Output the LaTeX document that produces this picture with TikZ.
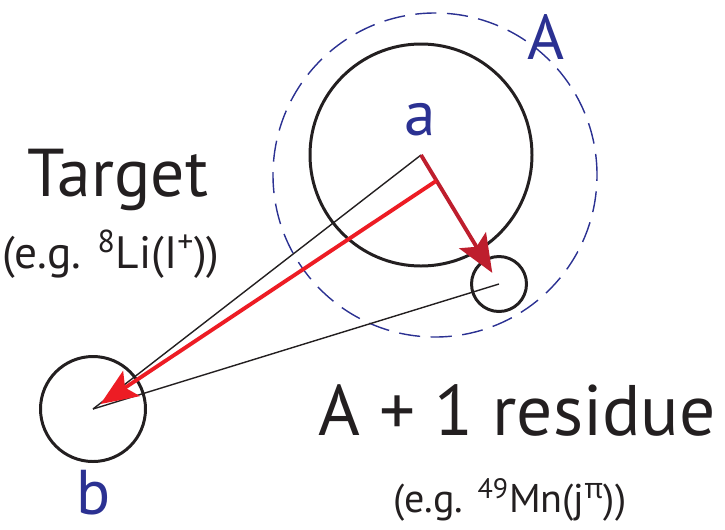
\documentclass[tikz,border=0pt]{standalone}
\usepackage{fontspec}
\setmainfont{PT Sans}
\newfontfamily\greekfont{Noto Sans}
\usetikzlibrary{calc, positioning}
\usetikzlibrary{arrows.meta}

\definecolor{nucblue}{HTML}{2B3192}
\definecolor{brightred}{HTML}{ED1C24}
\definecolor{darkred}{HTML}{BE1E2D}
\definecolor{inkblack}{HTML}{231F20}

\tikzset{
  body/.style={draw=inkblack, line width=1.7pt},
  ray/.style={draw=inkblack, line width=0.8pt},
  shell/.style={draw=nucblue, line width=0.8pt, dash pattern=on 12pt off 6pt},
  tag/.style={text=nucblue, inner sep=0pt, font=\fontsize{36}{40}\selectfont},
  words/.style={text=inkblack, inner sep=0pt, anchor=base west},
}

\begin{document}
\begin{tikzpicture}
\useasboundingbox (0,0) rectangle (14.5,10.58);

\coordinate (a) at (8.42,7.48);
\coordinate (b) at (1.86,2.40);
\coordinate (c) at (9.98,4.90);
\coordinate (o) at (8.70,7.08);
\coordinate (k) at ($(a)!0.6cm!(c)$);

% nuclei
\draw[shell] (o) circle (3.24);
\draw[body] (a) circle (2.22);
\draw[body] (c) circle (0.55);
\draw[body] (b) circle (1.05);

% lines to the target
\draw[ray] (a) -- (b);
\draw[ray] (c) -- (b);

% removal and transfer
\draw[-{Stealth[length=7.6mm, width=6.2mm, inset=1.5mm]}, darkred, line width=2.2pt, shorten >=0.26cm] (a) -- (c);
\draw[-{Stealth[length=7.4mm, width=6mm, inset=1.5mm]}, brightred, line width=2.2pt, shorten >=0.18cm] (k) -- (b);

\node[tag, anchor=base] (alabel) at (8.40,7.88) {a};
\node[tag, anchor=base] (blabel) at (1.88,0.30) {b};
\node[tag, anchor=base] (Alabel) at (10.91,9.40) {A};

\node[words, font=\fontsize{38.5}{44}\selectfont] (target) at (0.54,6.65) {Target};
\node[words, font=\fontsize{25.8}{30}\selectfont] (targetex) at (0.04,5.22) {(e.g. \textsuperscript{8}Li(I\textsuperscript{+}))};
\node[words, font=\fontsize{40.7}{46}\selectfont] (residue) at (6.36,1.88) {A + 1 residue};
\node[words, font=\fontsize{22.8}{27}\selectfont] (residueex) at (7.86,0.34) {(e.g. \textsuperscript{49}Mn(j\textsuperscript{\greekfont π}))};
\end{tikzpicture}
\end{document}
